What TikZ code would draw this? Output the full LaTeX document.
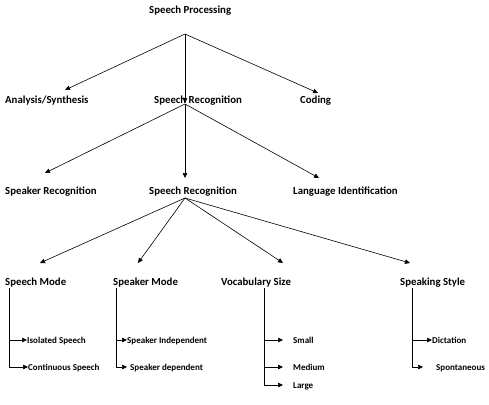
\documentclass[tikz,border=0pt]{standalone}
\usepackage{fontspec}
\setmainfont{Carlito}
\usetikzlibrary{arrows.meta}
\begin{document}
\begin{tikzpicture}[x=1pt,y=-1pt,
  lbl/.style={anchor=base west,inner sep=0pt,font=\bfseries\fontsize{10.8}{12}\selectfont},
  leaf/.style={anchor=base west,inner sep=0pt,font=\bfseries\fontsize{9}{10}\selectfont},
  conn/.style={line width=0.6pt,-{Triangle[length=5pt,width=4.5pt]}},
  trunk/.style={line width=0.6pt}]
\useasboundingbox (0,0) rectangle (489,404);
% level 1
\node[lbl] (sp) at (149,13.5) {Speech Processing};
% level 2
\node[lbl] (as) at (5,103.5) {Analysis/Synthesis};
\node[lbl] (sr1) at (154,103.5) {Speech Recognition};
\node[lbl] (cod) at (300,103.5) {Coding};
% level 3
\node[lbl] (spk) at (5,194.5) {Speaker Recognition};
\node[lbl] (sr2) at (149,194.5) {Speech Recognition};
\node[lbl] (lid) at (293,194.5) {Language Identification};
% level 4
\node[lbl] (sm) at (5,285.5) {Speech Mode};
\node[lbl] (skm) at (113,285.5) {Speaker Mode};
\node[lbl] (vs) at (221,285.5) {Vocabulary Size};
\node[lbl] (ss) at (400,285.5) {Speaking Style};
% leaves
\node[leaf] (iso) at (27,343) {Isolated Speech};
\node[leaf] (con) at (28,370) {Continuous Speech};
\node[leaf] (ind) at (127,343) {Speaker Independent};
\node[leaf] (dep) at (130,370) {Speaker dependent};
\node[leaf] (sml) at (293,343) {Small};
\node[leaf] (med) at (293,370) {Medium};
\node[leaf] (lrg) at (293,388) {Large};
\node[leaf] (dic) at (432,343) {Dictation};
\node[leaf] (spo) at (436,370) {Spontaneous};
% branch points and tips
\coordinate (b1) at (185,34);
\coordinate (t-as) at (65,90);
\coordinate (t-sr1) at (185,103);
\coordinate (t-cod) at (318,93);
\coordinate (b2) at (185,104);
\coordinate (t-spk) at (45,173);
\coordinate (t-sr2) at (185,178);
\coordinate (t-lid) at (319,178);
\coordinate (b3) at (185,198);
\coordinate (t-sm) at (40,263);
\coordinate (t-skm) at (138,263);
\coordinate (t-vs) at (283,263);
\coordinate (t-ss) at (410,263);
\draw[conn] (b1) -- (t-as);
\draw[conn] (b1) -- (t-sr1);
\draw[conn] (b1) -- (t-cod);
\draw[conn] (b2) -- (t-spk);
\draw[conn] (b2) -- (t-sr2);
\draw[conn] (b2) -- (t-lid);
\draw[conn] (b3) -- (t-sm);
\draw[conn] (b3) -- (t-skm);
\draw[conn] (b3) -- (t-vs);
\draw[conn] (b3) -- (t-ss);
% subtrees
\coordinate (v1t) at (9,288);
\coordinate (v1a) at (9,340);
\coordinate (v1b) at (9,367);
\coordinate (t-iso) at (27,340);
\coordinate (t-con) at (28,367);
\draw[trunk] (v1t) -- (v1b);
\draw[conn] (v1a) -- (t-iso);
\draw[conn] (v1b) -- (t-con);
\coordinate (v2t) at (116,288);
\coordinate (v2a) at (116,340);
\coordinate (v2b) at (116,367);
\coordinate (t-ind) at (127,340);
\coordinate (t-dep) at (127,367);
\draw[trunk] (v2t) -- (v2b);
\draw[conn] (v2a) -- (t-ind);
\draw[conn] (v2b) -- (t-dep);
\coordinate (v3t) at (264,288);
\coordinate (v3a) at (264,340);
\coordinate (v3b) at (264,367);
\coordinate (v3c) at (264,385);
\coordinate (t-sml) at (283,340);
\coordinate (t-med) at (283,367);
\coordinate (t-lrg) at (283,385);
\draw[trunk] (v3t) -- (v3c);
\draw[conn] (v3a) -- (t-sml);
\draw[conn] (v3b) -- (t-med);
\draw[conn] (v3c) -- (t-lrg);
\coordinate (v4t) at (412,288);
\coordinate (v4a) at (412,340);
\coordinate (v4b) at (412,367);
\coordinate (t-dic) at (432,340);
\coordinate (t-spo) at (423,367);
\draw[trunk] (v4t) -- (v4b);
\draw[conn] (v4a) -- (t-dic);
\draw[conn] (v4b) -- (t-spo);
\end{tikzpicture}
\end{document}
